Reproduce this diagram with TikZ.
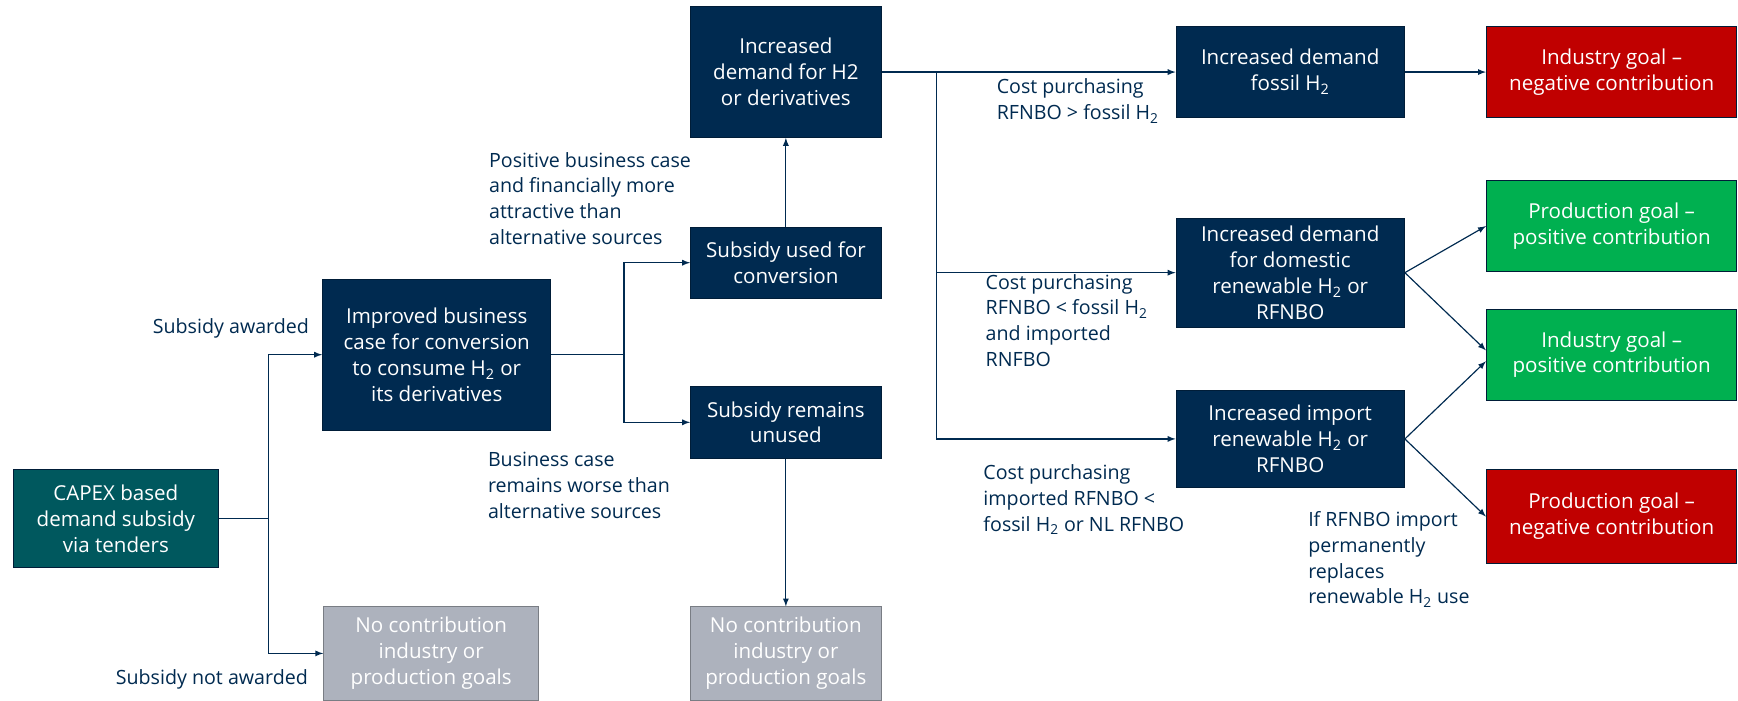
\documentclass[tikz,border=0pt]{standalone}
\usepackage{fontspec}
\setmainfont{Open Sans}
\usetikzlibrary{positioning}
\definecolor{navy}{RGB}{0,42,80}
\definecolor{teal}{RGB}{0,88,94}
\definecolor{greybox}{RGB}{173,178,189}
\definecolor{goalred}{RGB}{192,0,0}
\definecolor{goalgreen}{RGB}{0,176,80}

\begin{document}
\begin{tikzpicture}[
		x=0.025cm, y=-0.025cm,
		every node/.style={font=\fontsize{13.2}{16.6}\selectfont},
		box/.style={rectangle, draw=navy!70!black, line width=0.6pt, text=white, align=center, inner sep=1pt},
		navybox/.style={box, fill=navy},
		tealbox/.style={box, fill=teal},
		greybox/.style={box, fill=greybox, draw=greybox!70!black},
		redbox/.style={box, fill=goalred},
		greenbox/.style={box, fill=goalgreen},
		lbl/.style={text=navy, align=left, inner sep=0pt, font=\fontsize{12.6}{16.6}\selectfont},
		link/.style={draw=navy, line width=0.75pt},
		>=latex
		]
		\useasboundingbox (0,0) rectangle (1568,632);
		
		% left part
		\node[tealbox, minimum width=4.625cm, minimum height=2.2cm](capex) at (104.5,468){CAPEX based\\demand subsidy\\via tenders};
		\node[navybox, minimum width=5.15cm, minimum height=3.4cm](improved) at (394,320){Improved business\\case for conversion\\to consume H\textsubscript{2} or\\its derivatives};
		\node[greybox, minimum width=4.85cm, minimum height=2.1cm](nocontribA) at (389,589.5){No contribution\\industry or\\production goals};
		\coordinate (jA) at (242,468);
		\draw[link] (capex.east) -- (jA);
		\draw[link, ->] (jA) |- (improved.west);
		\draw[link, ->] (jA) |- (nocontribA.west);
		\node[lbl, anchor=east](awarded) at (279,296){Subsidy awarded};
		\node[lbl, anchor=east](notawarded) at (278,613){Subsidy not awarded};
		
		% middle part
		\node[navybox, minimum width=4.3cm, minimum height=1.6cm](used) at (709,237){Subsidy used for\\conversion};
		\node[navybox, minimum width=4.3cm, minimum height=1.625cm](unused) at (709,381){Subsidy remains\\unused};
		\node[navybox, minimum width=4.325cm, minimum height=2.95cm](h2demand) at (709,65){Increased\\demand for H2\\or derivatives};
		\node[greybox, minimum width=4.325cm, minimum height=2.1cm](nocontribB) at (709,589.5){No contribution\\industry or\\production goals};
		\coordinate (jB) at (563,320);
		\draw[link] (improved.east) -- (jB);
		\draw[link, ->] (jB) |- (used.west);
		\draw[link, ->] (jB) |- (unused.west);
		\draw[link, ->] (used.north) -- (h2demand.south);
		\draw[link, ->] (unused.south) -- (nocontribB.north);
		\node[lbl, anchor=north west](positive) at (441,137){Positive business case\\and financially more\\attractive than\\alternative sources};
		\node[lbl, anchor=north west](worse) at (440,408){Business case\\remains worse than\\alternative sources};
		
		% right part
		\node[navybox, minimum width=5.15cm, minimum height=2.05cm](fossil) at (1164,65){Increased demand\\fossil H\textsubscript{2}};
		\node[navybox, minimum width=5.15cm, minimum height=2.45cm](domestic) at (1164,246){Increased demand\\for domestic\\renewable H\textsubscript{2} or\\RFNBO};
		\node[navybox, minimum width=5.15cm, minimum height=2.2cm](import) at (1164,396){Increased import\\renewable H\textsubscript{2} or\\RFNBO};
		\coordinate (jC) at (845,65);
		\draw[link] (h2demand.east) -- (jC);
		\draw[link, ->] (jC) -- (fossil.west);
		\draw[link, ->] (jC) |- (domestic.west);
		\draw[link, ->] (jC) |- (import.west);
		\node[lbl, anchor=north west](costA) at (899,71){Cost purchasing\\RFNBO > fossil H\textsubscript{2}};
		\node[lbl, anchor=north west](costB) at (889,247){Cost purchasing\\RFNBO < fossil H\textsubscript{2}\\and imported\\RNFBO};
		\node[lbl, anchor=north west](costC) at (887,419){Cost purchasing\\imported RFNBO <\\fossil H\textsubscript{2} or NL RFNBO};
		
		% goals
		\node[redbox, minimum width=5.65cm, minimum height=2.05cm](indneg) at (1454,65){Industry goal --\\negative contribution};
		\node[greenbox, minimum width=5.65cm, minimum height=2.05cm](prodpos) at (1454,204){Production goal --\\positive contribution};
		\node[greenbox, minimum width=5.65cm, minimum height=2.05cm](indpos) at (1454,320){Industry goal --\\positive contribution};
		\node[redbox, minimum width=5.65cm, minimum height=2.1cm](prodneg) at (1454,466){Production goal --\\negative contribution};
		\draw[link, ->] (fossil.east) -- (indneg.west);
		\draw[link, ->] (domestic.east) -- (prodpos.west);
		\draw[link, ->] (domestic.east) -- (indpos.178);
		\draw[link, ->] (import.east) -- (indpos.183);
		\draw[link, ->] (import.east) -- (prodneg.west);
		\node[lbl, anchor=north west](replaces) at (1180,461){If RFNBO import\\permanently\\replaces\\renewable H\textsubscript{2} use};
	\end{tikzpicture}
\end{document}
